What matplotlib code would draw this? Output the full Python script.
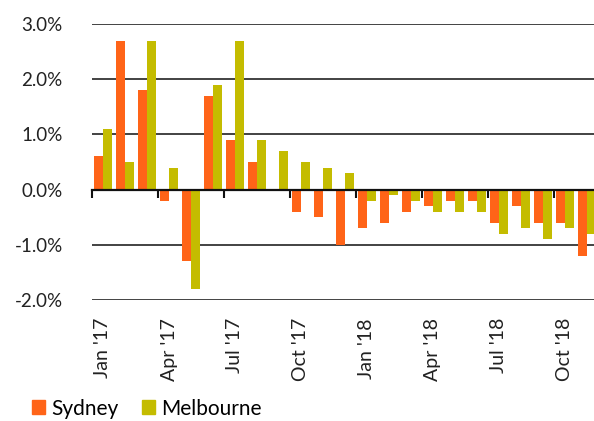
import matplotlib
matplotlib.use("Agg")
import matplotlib.pyplot as plt
import numpy as np
from matplotlib.patches import Patch

months = ["Jan '17", "Feb '17", "Mar '17", "Apr '17", "May '17", "Jun '17",
          "Jul '17", "Aug '17", "Sep '17", "Oct '17", "Nov '17", "Dec '17",
          "Jan '18", "Feb '18", "Mar '18", "Apr '18", "May '18", "Jun '18",
          "Jul '18", "Aug '18", "Sep '18", "Oct '18", "Nov '18"]
sydney = [0.6, 2.7, 1.8, -0.2, -1.3, 1.7, 0.9, 0.5, 0.0, -0.4, -0.5, -1.0,
          -0.7, -0.6, -0.4, -0.3, -0.2, -0.2, -0.6, -0.3, -0.6, -0.6, -1.2]
melbourne = [1.1, 0.5, 2.7, 0.4, -1.8, 1.9, 2.7, 0.9, 0.7, 0.5, 0.4, 0.3,
             -0.2, -0.1, -0.2, -0.4, -0.4, -0.4, -0.8, -0.7, -0.9, -0.7, -0.8]
yticks = [-2, -1, 0, 1, 2, 3]
ytick_labels = ["-2.0%", "-1.0%", "0.0%", "1.0%", "2.0%", "3.0%"]
label_idx = [0, 3, 6, 9, 12, 15, 18, 21]

c_syd = "#FF6418"
c_mel = "#C4BC00"

plt.rcParams['font.family'] = ['Lato', 'DejaVu Sans']

fig = plt.figure(figsize=(5.94, 4.21), dpi=100)
W, H = 594, 421
ax = fig.add_axes([92 / W, 1 - 300 / H, (594 - 92) / W, (300 - 24) / H])

x = np.arange(len(months))
ax.bar(x + 0.3, sydney, width=0.4, color=c_syd, zorder=3)
ax.bar(x + 0.7, melbourne, width=0.4, color=c_mel, zorder=3)

ax.set_xlim(0, (594 - 92) / 22)
ax.set_ylim(-2, 3)

for s in ax.spines.values():
    s.set_visible(False)
ax.spines['bottom'].set_visible(True)
ax.spines['bottom'].set_position(('data', 0))
ax.spines['bottom'].set_color('#111111')
ax.spines['bottom'].set_linewidth(1.6)
ax.spines['bottom'].set_zorder(4)
ax.set_xticks(label_idx)
ax.set_xticklabels([])
ax.tick_params(axis='x', direction='out', length=6, width=1.5, color='#111111')

ax.set_yticks(yticks)
ax.set_yticklabels(ytick_labels, fontsize=13.5, color='#222222')
ax.tick_params(axis='y', length=0, pad=21)
for yv in yticks:
    if yv != 0:
        ax.axhline(yv, color='#222222', lw=1.2, zorder=1)

sec = ax.secondary_xaxis(location=0.0)
sec.set_xticks([i + 0.5 for i in label_idx])
sec.set_xticklabels([months[i] for i in label_idx], rotation=90, fontsize=14, color='#222222')
sec.tick_params(length=0, pad=13)
sec.spines['bottom'].set_visible(False)

handles = [Patch(color=c_syd, label='Sydney'), Patch(color=c_mel, label='Melbourne')]
fig.legend(handles=handles, loc='lower left', bbox_to_anchor=(24 / W, -0.014), ncol=2,
           frameon=False, fontsize=15, handlelength=0.62, handleheight=0.62,
           handletextpad=0.3, columnspacing=1.1, borderaxespad=0)

fig.savefig("out.png", dpi=100)
